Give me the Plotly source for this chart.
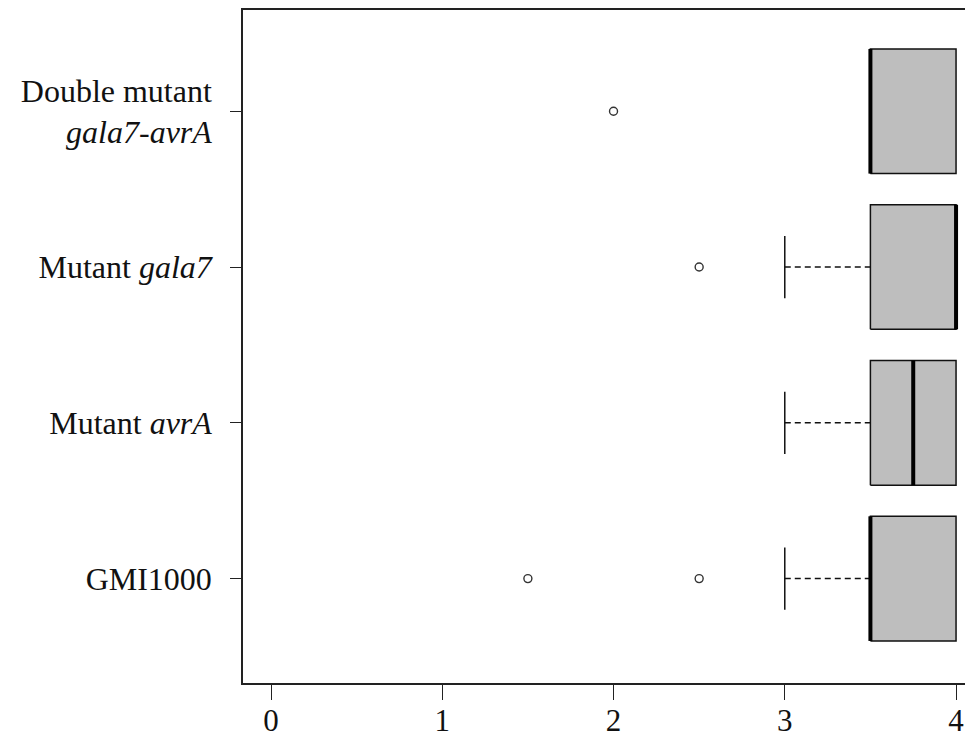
import plotly.graph_objects as go

# ---- data ----
categories = ["GMI1000", "Mutant avrA", "Mutant gala7", "Double mutant gala7-avrA"]
tick_labels = ["GMI1000", "Mutant <i>avrA</i>", "Mutant <i>gala7</i>",
               "Double mutant<br><i>gala7-avrA</i>"]
q1 = [3.5, 3.5, 3.5, 3.5]
median = [3.5, 3.75, 4.0, 3.5]
q3 = [4.0, 4.0, 4.0, 4.0]
lower_whisker = [3.0, 3.0, 3.0, 3.5]
upper_whisker = [4.0, 4.0, 4.0, 4.0]
outlier_values = [1.5, 2.5, 2.5, 2.0]
outlier_group = ["GMI1000", "GMI1000", "Mutant gala7", "Double mutant gala7-avrA"]
x_ticks = [0, 1, 2, 3, 4]

FONT = "Liberation Serif"
BOXW = 0.4      # half box height (R boxwex 0.8)
STAPLE = 0.2    # half staple length

fig = go.Figure()
positions = list(range(1, len(categories) + 1))
pos_of = dict(zip(categories, positions))

for i, p in enumerate(positions):
    # box
    fig.add_trace(go.Scatter(
        x=[q1[i], q3[i], q3[i], q1[i], q1[i]],
        y=[p - BOXW, p - BOXW, p + BOXW, p + BOXW, p - BOXW],
        mode="lines", fill="toself", fillcolor="#BEBEBE",
        line=dict(color="#111111", width=1.5), hoverinfo="skip", showlegend=False))
    # lower whisker (dashed) + staple
    if lower_whisker[i] < q1[i]:
        fig.add_trace(go.Scatter(
            x=[lower_whisker[i], q1[i]], y=[p, p], mode="lines",
            line=dict(color="#111111", width=1.5, dash="6px,4px"),
            hoverinfo="skip", showlegend=False))
    fig.add_trace(go.Scatter(
        x=[lower_whisker[i], lower_whisker[i]], y=[p - STAPLE, p + STAPLE], mode="lines",
        line=dict(color="#111111", width=1.5), hoverinfo="skip", showlegend=False))
    # upper whisker
    if upper_whisker[i] > q3[i]:
        fig.add_trace(go.Scatter(
            x=[q3[i], upper_whisker[i]], y=[p, p], mode="lines",
            line=dict(color="#111111", width=1.5, dash="6px,4px"),
            hoverinfo="skip", showlegend=False))
        fig.add_trace(go.Scatter(
            x=[upper_whisker[i], upper_whisker[i]], y=[p - STAPLE, p + STAPLE], mode="lines",
            line=dict(color="#111111", width=1.5), hoverinfo="skip", showlegend=False))
    # median
    fig.add_trace(go.Scatter(
        x=[median[i], median[i]], y=[p - BOXW, p + BOXW], mode="lines",
        line=dict(color="#000000", width=4), hoverinfo="skip", showlegend=False))

# outliers
fig.add_trace(go.Scatter(
    x=outlier_values, y=[pos_of[g] for g in outlier_group], mode="markers",
    marker=dict(symbol="circle-open", size=8, color="#333333", line=dict(width=1.4)),
    showlegend=False))

# page body has an 8px margin: figure is shifted by 8px, so size/margins compensate
fig.update_layout(
    width=965, height=730,
    margin=dict(l=235, r=0, t=2, b=55, pad=0),
    paper_bgcolor="white", plot_bgcolor="white",
    font=dict(family=FONT, size=32, color="#111111"),
    xaxis=dict(range=[-0.1635, 4.099], tickvals=x_ticks, ticktext=[str(v) for v in x_ticks],
               ticks="outside", ticklen=15, tickwidth=1.3, tickcolor="#222222",
               ticklabelstandoff=-6,
               showline=True, mirror=True, linecolor="#222222", linewidth=1.5,
               automargin=False,
               showgrid=False, zeroline=False, tickfont=dict(family=FONT, size=31)),
    yaxis=dict(range=[0.33, 4.65], tickvals=positions, ticktext=tick_labels,
               ticks="outside", ticklen=11, tickwidth=1.3, tickcolor="#222222",
               ticklabelstandoff=12, automargin=False,
               showline=True, linecolor="#222222", linewidth=1.5,
               showgrid=False, zeroline=False, tickfont=dict(family=FONT, size=32)),
)

fig.write_html("out.html")
